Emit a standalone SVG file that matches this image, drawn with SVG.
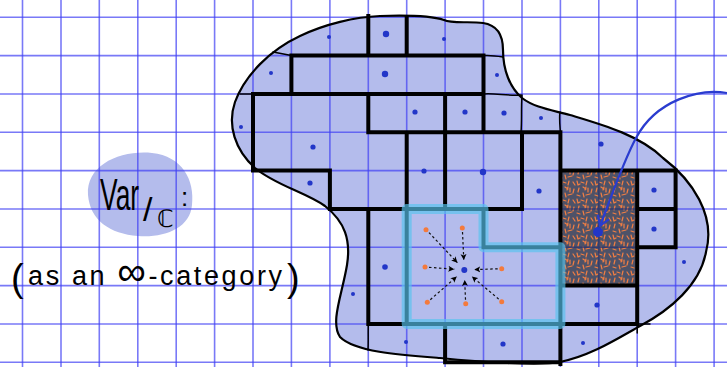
<svg xmlns="http://www.w3.org/2000/svg" width="727" height="367" viewBox="0 0 727 367">
<style>
.grid line{stroke:#4040f4;stroke-opacity:0.7;stroke-width:1.6}
.tile{fill:none;stroke:#000;stroke-width:4;stroke-linecap:square;stroke-linejoin:miter}
.thin{fill:none;stroke:#000;stroke-width:1.5;stroke-linecap:round}
.dot{fill:#2236c8}
.odot{fill:#f47a3c}
.dash{fill:none;stroke:#111;stroke-width:1.2;stroke-dasharray:2.5 2.5;marker-end:url(#ah)}
.hand{font-family:"Liberation Sans","DejaVu Sans",sans-serif;fill:#000}
</style>
<defs>
<marker id="ah" markerUnits="userSpaceOnUse" markerWidth="7" markerHeight="7" refX="6" refY="3.5" orient="auto" viewBox="0 0 7 7">
<path d="M0,0.5 L6,3.5 L0,6.5 L1.5,3.5 Z" fill="#000"/>
</marker>
<marker id="bah" markerUnits="userSpaceOnUse" markerWidth="14" markerHeight="14" refX="11" refY="7" orient="auto" viewBox="0 0 14 14">
<path d="M2,1.5 L11,7 L2,12.5" fill="none" stroke="#2a3ccf" stroke-width="2.2" stroke-linecap="round" stroke-linejoin="round"/>
</marker>
<pattern id="fur" width="18" height="18" patternUnits="userSpaceOnUse">
<path d="M1,1 l1,4 M5,2 l3,1 M11,1 l-1,4 M15,2 l2,3 M3,8 l-1,4 M7,7 l3,2 M12,8 l0,4 M16,9 l-1,4 M1,15 l3,1 M7,13 l1,4 M10,15 l4,-1 M4,4 l-2,1 M9,10 l1,-3" fill="none" stroke="#f27e42" stroke-width="1.2" stroke-linecap="round"/>
</pattern>
</defs>
<rect width="727" height="367" fill="#fff"/>

<g id="region-fill">
<path id="blob-fill" d="M380,16 C410,15 432,16 444,20 C452,24 470,21 483,23 C497,25 503,35 503,50 C503,70 510,88 522,98 C535,108 552,110 570,115 C600,124 640,135 663,158 C692,180 716,215 706,252 C700,285 670,310 640,326 C615,340 590,356 560,362 C540,366 480,362 440,358 C400,355 355,352 340,337 C330,322 342,295 347,265 C351,240 345,222 325,206 C305,192 275,185 255,168 C235,150 227,125 235,102 C245,75 270,50 300,36 C325,24 355,17 380,16 Z" fill="#b4bcec"/>
<path id="label-blob" d="M88,195 C86,165 120,150 152,153 C182,156 195,180 192,205 C190,228 165,238 138,236 C110,234 90,220 88,195 Z" fill="#b4bcec"/>
</g>

<g class="grid" id="grid">
<line x1="22.5" y1="0" x2="22.5" y2="367"/><line x1="61" y1="0" x2="61" y2="367"/><line x1="99.3" y1="0" x2="99.3" y2="367"/><line x1="137.8" y1="0" x2="137.8" y2="367"/><line x1="176.2" y1="0" x2="176.2" y2="367"/><line x1="214.6" y1="0" x2="214.6" y2="367"/><line x1="253" y1="0" x2="253" y2="367"/><line x1="291.4" y1="0" x2="291.4" y2="367"/><line x1="329.9" y1="0" x2="329.9" y2="367"/><line x1="368.3" y1="0" x2="368.3" y2="367"/><line x1="406.7" y1="0" x2="406.7" y2="367"/><line x1="445.1" y1="0" x2="445.1" y2="367"/><line x1="483.5" y1="0" x2="483.5" y2="367"/><line x1="522" y1="0" x2="522" y2="367"/><line x1="560.4" y1="0" x2="560.4" y2="367"/><line x1="598.8" y1="0" x2="598.8" y2="367"/><line x1="637.2" y1="0" x2="637.2" y2="367"/><line x1="675.6" y1="0" x2="675.6" y2="367"/><line x1="714.1" y1="0" x2="714.1" y2="367"/>
<line x1="0" y1="17.3" x2="727" y2="17.3"/><line x1="0" y1="55.6" x2="727" y2="55.6"/><line x1="0" y1="94" x2="727" y2="94"/><line x1="0" y1="132.3" x2="727" y2="132.3"/><line x1="0" y1="170.6" x2="727" y2="170.6"/><line x1="0" y1="209" x2="727" y2="209"/><line x1="0" y1="247.3" x2="727" y2="247.3"/><line x1="0" y1="285.6" x2="727" y2="285.6"/><line x1="0" y1="324" x2="727" y2="324"/><line x1="0" y1="362.3" x2="727" y2="362.3"/>
</g>

<g id="dark-cell">
<rect x="560.4" y="170.6" width="76.8" height="115" fill="#4e5268"/>
<rect x="560.4" y="170.6" width="76.8" height="115" fill="url(#fur)"/>
<path d="M598.8,170.6 V285.6 M560.4,209 H637.2 M560.4,247.3 H637.2" stroke="#2a3070" stroke-width="1.4" stroke-opacity="0.7" fill="none"/>
</g>

<g id="tiles">
<path class="tile" d="M368.3,16 V55.6 M406.7,17 V55.6 M291.4,94 V55.6 H483.5 V132.3 M253,170.6 V94 H483.5 M253,170.6 H329.9 V209 H522 V132.3 M368.3,94 V132.3 H560.4 M445.1,94 V209 M406.7,132.3 V324 M368.3,209 V324 H637.2 M445.1,324 V362.3 H560.4 M560.4,132.3 V364 M483.5,209 V247.3 H560.4 M560.4,170.6 H675.6 V247.3 H637.2 M637.2,170.6 V324 M637.2,209 H675.6 M560.4,285.6 H637.2"/>
<path class="thin" d="M273,52 L291.4,55.6 M483.5,55.6 C490,55 497,56 503,57 M240,94 H253 M483.5,94 C495,93 508,96 521,95 M522,95 C521,110 522,120 521,132.3 M560,112 C559,118 560,126 560.4,132.3 M368.3,324 C368,333 368.5,342 368,350 M637.2,324 V333 M637.2,324 H650"/>
</g>

<g id="cone-region">
<path d="M406.7,209 H483.5 V247.3 H560.4 V324 H406.7 Z" fill="none" stroke="#56c4ee" stroke-opacity="0.66" stroke-width="10" stroke-linejoin="round" stroke-linecap="round"/>
</g>

<g id="region-outline">
<path d="M380,16 C410,15 432,16 444,20 C452,24 470,21 483,23 C497,25 503,35 503,50 C503,70 510,88 522,98 C535,108 552,110 570,115 C600,124 640,135 663,158 C692,180 716,215 706,252 C700,285 670,310 640,326 C615,340 590,356 560,362 C540,366 480,362 440,358 C400,355 355,352 340,337 C330,322 342,295 347,265 C351,240 345,222 325,206 C305,192 275,185 255,168 C235,150 227,125 235,102 C245,75 270,50 300,36 C325,24 355,17 380,16 Z" fill="none" stroke="#000" stroke-width="2.2"/>
</g>

<g id="points">
<circle class="dot" cx="329" cy="37" r="2"/><circle class="dot" cx="444" cy="39" r="2"/><circle class="dot" cx="271" cy="73" r="2"/><circle class="dot" cx="241" cy="127" r="2"/><circle class="dot" cx="497" cy="75" r="2"/><circle class="dot" cx="541" cy="118" r="2"/><circle class="dot" cx="353" cy="294" r="2"/><circle class="dot" cx="406" cy="342" r="2"/><circle class="dot" cx="684" cy="262" r="2"/><circle class="dot" cx="583" cy="343" r="2"/>
<circle class="dot" cx="415" cy="112" r="2.6"/><circle class="dot" cx="465" cy="112" r="2.6"/><circle class="dot" cx="313" cy="147" r="2.6"/><circle class="dot" cx="424" cy="171" r="2.6"/><circle class="dot" cx="504" cy="113" r="2.6"/><circle class="dot" cx="601" cy="144" r="2.6"/><circle class="dot" cx="539" cy="191" r="2.6"/><circle class="dot" cx="310" cy="183" r="2.6"/><circle class="dot" cx="385" cy="267" r="2.8"/><circle class="dot" cx="503" cy="344" r="2.6"/><circle class="dot" cx="654" cy="190" r="2.6"/><circle class="dot" cx="654" cy="229" r="2.6"/><circle class="dot" cx="597" cy="305" r="2.6"/>
<circle class="dot" cx="386" cy="34" r="3.2"/><circle class="dot" cx="385" cy="74" r="3.2"/><circle class="dot" cx="483" cy="172" r="3.2"/>
<circle class="dot" cx="464.3" cy="270" r="3"/>
<circle class="dot" cx="598" cy="232" r="5"/>
<circle class="odot" cx="426" cy="229.7" r="2.5"/><circle class="odot" cx="462.3" cy="228" r="2.5"/><circle class="odot" cx="425" cy="267" r="2.5"/><circle class="odot" cx="501.7" cy="268.7" r="2.5"/><circle class="odot" cx="427.3" cy="302.3" r="2.5"/><circle class="odot" cx="465.7" cy="303.7" r="2.5"/><circle class="odot" cx="501.7" cy="301.7" r="2.5"/>
</g>

<g id="connectors">
<path class="dash" d="M429,232.6 L457.4,262.7"/>
<path class="dash" d="M462.5,232 L463.8,260"/>
<path class="dash" d="M429,267.3 L454.3,269.2"/>
<path class="dash" d="M497.7,268.8 L474.3,269.6"/>
<path class="dash" d="M430.3,299.7 L456.8,276.6"/>
<path class="dash" d="M465.5,299.7 L464.7,280"/>
<path class="dash" d="M498.7,299.1 L471.9,276.5"/>
<path d="M727,93 C700,88 656,100 636,138 C624,160 610,200 600,226" fill="none" stroke="#2a3ccf" stroke-width="2.2" marker-end="url(#bah)"/>
</g>

<g id="label">
<text class="hand" transform="translate(100,210) scale(0.6,1)" font-size="44">Var</text>
<text class="hand" x="143" y="221" font-size="34">/</text>
<text class="hand" x="157" y="227" font-size="24">ℂ</text>
<text class="hand" x="181" y="206" font-size="26">:</text>
<text class="hand" x="11" y="291" font-size="38">(</text>
<text class="hand" x="28" y="285" font-size="27" textLength="254" lengthAdjust="spacing">as an <tspan font-size="40">∞</tspan>-category</text>
<text class="hand" x="287" y="291" font-size="38">)</text>
</g>
</svg>
